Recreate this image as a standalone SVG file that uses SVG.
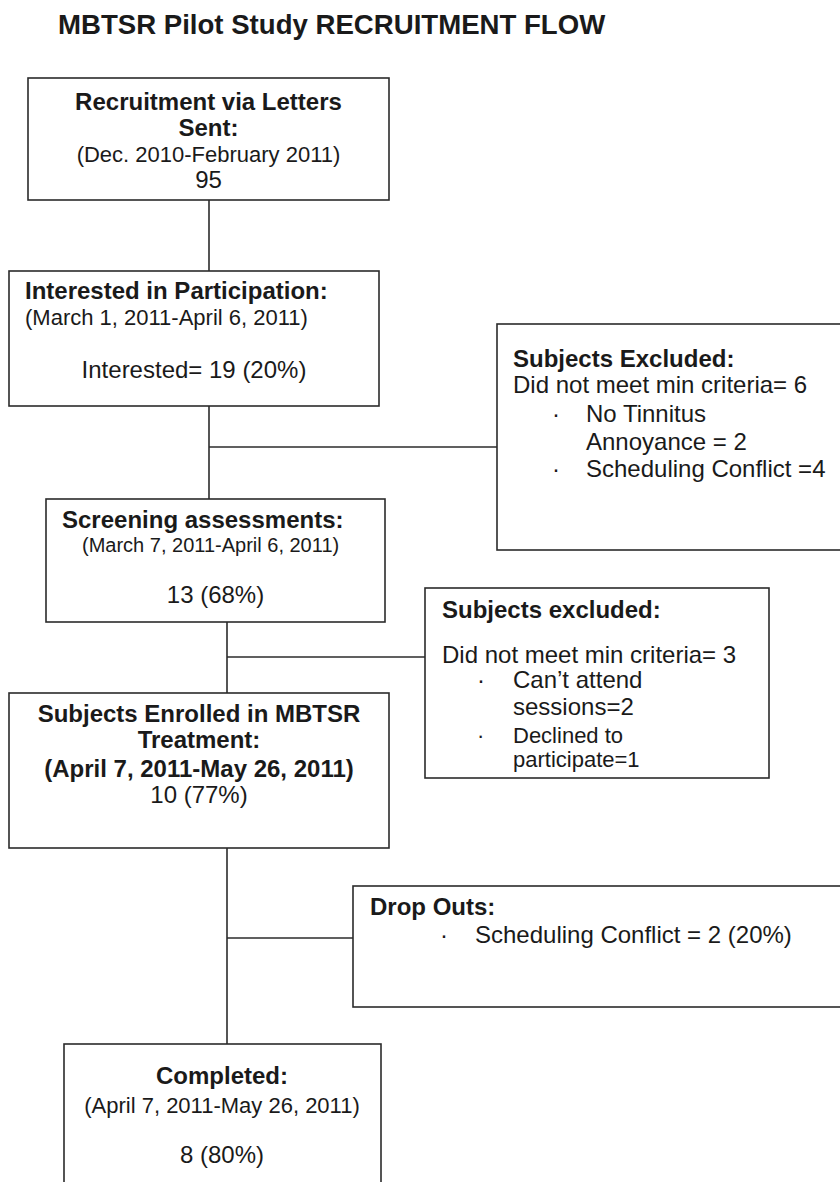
<svg xmlns="http://www.w3.org/2000/svg" width="840" height="1182" viewBox="0 0 840 1182">
<style>
  text { font-family: "Liberation Sans", Arial, sans-serif; fill: #1a1a1a; }
  .b { font-weight: bold; font-size: 24px; }
  .r { font-size: 24px; }
  .s { font-size: 22px; }
  .xs { font-size: 20px; }
  .c { text-anchor: middle; }
  .box { fill: #ffffff; stroke: #2b2b2b; stroke-width: 1.6; }
  .ln { stroke: #2b2b2b; stroke-width: 1.6; fill: none; }
</style>
<rect width="840" height="1182" fill="#ffffff"/>
<text x="58" y="34" style="font-weight:bold;font-size:27.6px">MBTSR Pilot Study RECRUITMENT FLOW</text>

<g id="connectors">
  <line class="ln" x1="209" y1="200" x2="209" y2="271"/>
  <line class="ln" x1="209" y1="406" x2="209" y2="499"/>
  <line class="ln" x1="209" y1="447" x2="497" y2="447"/>
  <line class="ln" x1="227" y1="622" x2="227" y2="693"/>
  <line class="ln" x1="227" y1="657" x2="425" y2="657"/>
  <line class="ln" x1="227" y1="848" x2="227" y2="1044"/>
  <line class="ln" x1="227" y1="938" x2="353" y2="938"/>
</g>

<g id="recruitment">
  <rect class="box" x="28" y="78" width="361" height="122"/>
  <text class="b c" x="208.5" y="110">Recruitment via Letters</text>
  <text class="b c" x="208.5" y="136">Sent:</text>
  <text class="s c" x="208.5" y="162">(Dec. 2010-February 2011)</text>
  <text class="r c" x="208.5" y="188">95</text>
</g>

<g id="interested">
  <rect class="box" x="9" y="271" width="370" height="135"/>
  <text class="b" x="25" y="299">Interested in Participation:</text>
  <text class="s" x="25" y="325">(March 1, 2011-April 6, 2011)</text>
  <text class="r c" x="194" y="378">Interested= 19 (20%)</text>
</g>

<g id="excluded1">
  <rect class="box" x="497" y="324" width="350" height="226"/>
  <text class="b" x="513" y="367">Subjects Excluded:</text>
  <text class="r" x="513" y="393">Did not meet min criteria= 6</text>
  <text class="r" x="552" y="422">·</text>
  <text class="r" x="586" y="422">No Tinnitus</text>
  <text class="r" x="586" y="450">Annoyance = 2</text>
  <text class="r" x="552" y="477">·</text>
  <text class="r" x="586" y="477">Scheduling Conflict =4</text>
</g>

<g id="screening">
  <rect class="box" x="46" y="499" width="339" height="123"/>
  <text class="b" x="62" y="528">Screening assessments:</text>
  <text class="xs" x="82" y="552">(March 7, 2011-April 6, 2011)</text>
  <text class="r c" x="215.5" y="603">13 (68%)</text>
</g>

<g id="excluded2">
  <rect class="box" x="425" y="588" width="344" height="190"/>
  <text class="b" x="442" y="618">Subjects excluded:</text>
  <text class="r" x="442" y="663">Did not meet min criteria= 3</text>
  <text class="r" x="477" y="688">·</text>
  <text class="r" x="513" y="688">Can’t attend</text>
  <text class="r" x="513" y="715">sessions=2</text>
  <text class="s" x="477" y="743">·</text>
  <text class="s" x="513" y="743">Declined to</text>
  <text class="s" x="513" y="767">participate=1</text>
</g>

<g id="enrolled">
  <rect class="box" x="9" y="693" width="380" height="155"/>
  <text class="b c" x="199" y="722">Subjects Enrolled in MBTSR</text>
  <text class="b c" x="199" y="748">Treatment:</text>
  <text class="b c" x="199" y="777">(April 7, 2011-May 26, 2011)</text>
  <text class="r c" x="199" y="803">10 (77%)</text>
</g>

<g id="dropouts">
  <rect class="box" x="353" y="886" width="495" height="121"/>
  <text class="b" x="370" y="915">Drop Outs:</text>
  <text class="r" x="440" y="943">·</text>
  <text class="r" x="475" y="943">Scheduling Conflict = 2 (20%)</text>
</g>

<g id="completed">
  <rect class="box" x="64" y="1044" width="317" height="150"/>
  <text class="b c" x="222" y="1084">Completed:</text>
  <text class="s c" x="222" y="1113">(April 7, 2011-May 26, 2011)</text>
  <text class="r c" x="222" y="1163">8 (80%)</text>
</g>
</svg>
